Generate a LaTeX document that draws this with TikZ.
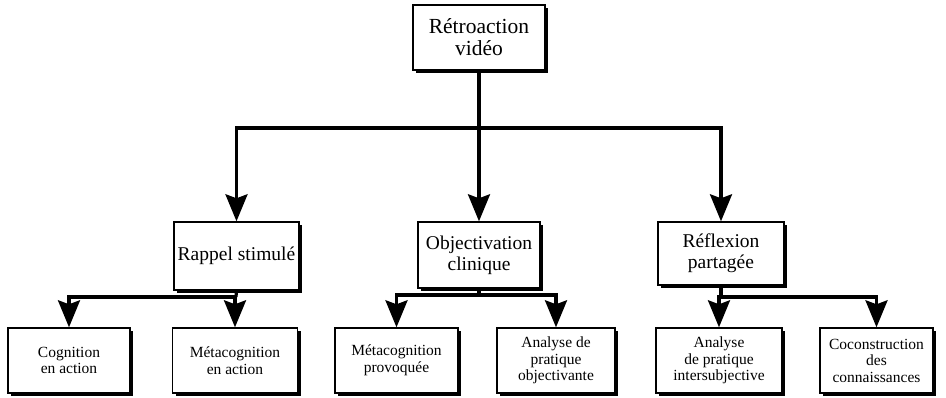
\documentclass[tikz,border=0pt]{standalone}
\usepackage{fontspec}
\setmainfont{Liberation Serif}
\usetikzlibrary{arrows.meta,shadows}
\tikzset{
  x=1pt,y=1pt,
  box/.style={draw=black,line width=1.4pt,fill=white,align=center,inner sep=1pt,
    drop shadow={shadow xshift=3pt,shadow yshift=-3pt,fill=black,opacity=1}},
  topbox/.style={box,font=\fontsize{21.5}{22}\selectfont},
  midbox/.style={box,font=\fontsize{19.5}{21}\selectfont},
  lowbox/.style={box,font=\fontsize{15.5}{16.5}\selectfont},
  conn/.style={line width=3.2pt},
  arr/.style={line width=3.2pt,-{Stealth[length=27pt,width=22pt,inset=4pt]}}
}
\begin{document}
\begin{tikzpicture}
\useasboundingbox (0,0) rectangle (946,-397);
% top
\node[topbox,minimum width=132,minimum height=65] (top) at (479,-37.5) {Rétroaction\\vidéo};
% middle
\node[midbox,minimum width=125,minimum height=68] (rap) at (236.5,-256) {Rappel stimulé};
\node[midbox,minimum width=122,minimum height=66] (obj) at (479,-255) {Objectivation\\clinique};
\node[midbox,minimum width=126,minimum height=63] (ref) at (721,-253.5) {Réflexion\\partagée};
% bottom
\node[lowbox,minimum width=122,minimum height=65] (cog) at (69,-360.5) {Cognition\\en action};
\node[lowbox,minimum width=125,minimum height=65] (meta) at (235,-360.5) {Métacognition\\en action};
\node[lowbox,minimum width=123,minimum height=65] (prov) at (396.5,-360.5) {Métacognition\\provoquée};
\node[lowbox,minimum width=118,minimum height=65] (anobj) at (556,-360.5) {Analyse de\\pratique\\objectivante};
\node[lowbox,minimum width=126,minimum height=65] (anint) at (719,-360.5) {Analyse\\de pratique\\intersubjective};
\node[lowbox,minimum width=113,minimum height=65] (cocon) at (876.5,-360.5) {Coconstruction\\des\\connaissances};
% junctions
\coordinate (j0) at (479,-128);
\coordinate (j1) at (236,-297);
\coordinate (j2) at (479,-295);
\coordinate (j3) at (721,-297);
% connectors level 1
\draw[conn] (top.south) -- (j0);
\draw[arr] (j0) -| (rap.north);
\draw[arr] (j0) -- (obj.north);
\draw[arr] (j0) -| (ref.north);
% level 2
\draw[conn] (rap.south) -- (j1);
\draw[arr] (j1) -| (cog.north);
\draw[arr] (j1) -| (meta.north);
\draw[conn] (obj.south) -- (j2);
\draw[arr] (j2) -| (prov.north);
\draw[arr] (j2) -| (anobj.north);
\draw[conn] (ref.south) -- (j3);
\draw[arr] (j3) -| (anint.north);
\draw[arr] (j3) -| (cocon.north);
\end{tikzpicture}
\end{document}
